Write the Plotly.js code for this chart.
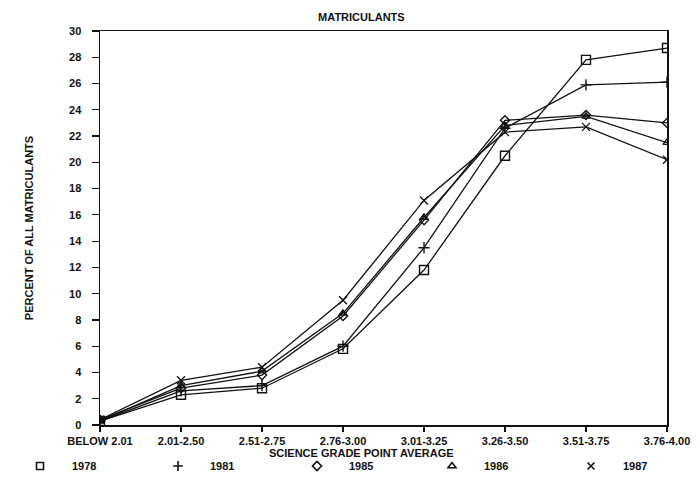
<!DOCTYPE html>
<html>
<head>
<meta charset="utf-8">
<script src="https://cdn.plot.ly/plotly-3.0.1.min.js"></script>
<style>
  html, body { margin: 0; padding: 0; background: #fff; }
  #chart { width: 699px; height: 491px; }
</style>
</head>
<body>
<div id="chart"></div>
<script>
// Science GPA bands (x categories)
const gpaBands = ['BELOW 2.01', '2.01-2.50', '2.51-2.75', '2.76-3.00',
                  '3.01-3.25', '3.26-3.50', '3.51-3.75', '3.76-4.00'];

// Percent of all matriculants in each band, by entering year
const pct1978 = [0.3, 2.3, 2.8, 5.8, 11.8, 20.5, 27.8, 28.7];
const pct1981 = [0.3, 2.6, 3.0, 6.0, 13.5, 22.6, 25.9, 26.1];
const pct1985 = [0.4, 2.8, 3.8, 8.3, 15.6, 23.2, 23.6, 23.0];
const pct1986 = [0.3, 3.0, 4.1, 8.5, 15.8, 22.8, 23.5, 21.5];
const pct1987 = [0.4, 3.4, 4.4, 9.5, 17.1, 22.3, 22.7, 20.2];

const yearNames = ['1978', '1981', '1985', '1986', '1987'];
const yTicks = [0, 2, 4, 6, 8, 10, 12, 14, 16, 18, 20, 22, 24, 26, 28, 30];

const seriesValues = [pct1978, pct1981, pct1985, pct1986, pct1987];
const symbols = ['square-open', 'cross-thin-open', 'diamond-open', 'triangle-up-open', 'x-thin-open'];
const sizes = [9, 8, 7, 7, 8];

const fontFamily = '"Liberation Sans", Arial, sans-serif';
const ink = '#111';
const boldFont = { family: fontFamily, size: 11, color: ink, weight: 'bold' };

// each year's key sits in its own single-entry legend along the bottom row
const legendIds = ['legend', 'legend2', 'legend3', 'legend4', 'legend5'];
const legendLeft = [8, 146, 285, 420, 559];

const traces = [];
// the plotted lines
seriesValues.forEach((vals, i) => {
  traces.push({
    type: 'scatter',
    mode: 'lines+markers',
    x: gpaBands,
    y: vals,
    name: yearNames[i],
    showlegend: false,
    line: { color: ink, width: 1.3 },
    marker: { symbol: symbols[i], size: sizes[i], color: ink, line: { color: ink, width: 1.4 } },
    hoverinfo: 'x+y+name'
  });
});
// marker-only keys for the legend row
seriesValues.forEach((vals, i) => {
  traces.push({
    type: 'scatter',
    mode: 'markers',
    x: [null],
    y: [null],
    name: yearNames[i],
    showlegend: true,
    legend: legendIds[i],
    marker: { symbol: symbols[i], size: 7, color: ink, line: { color: ink, width: 1.6 } }
  });
});

const layout = {
  width: 699,
  height: 491,
  paper_bgcolor: '#fff',
  plot_bgcolor: '#fff',
  margin: { l: 100, r: 32, t: 31, b: 66 },
  font: boldFont,
  title: {
    text: 'MATRICULANTS',
    font: boldFont,
    xref: 'container', x: 0.517, xanchor: 'center',
    yref: 'container', y: 0.965, yanchor: 'middle'
  },
  xaxis: {
    type: 'category',
    range: [0, 7],
    automargin: false,
    showline: true, linecolor: ink, linewidth: 1.5, mirror: true,
    ticks: 'outside', ticklen: 5, tickwidth: 1.2, tickcolor: ink,
    showgrid: false, zeroline: false,
    tickfont: boldFont,
    fixedrange: true
  },
  yaxis: {
    range: [0, 30],
    automargin: true,
    tickvals: yTicks,
    ticktext: yTicks.map(String),
    showline: true, linecolor: ink, linewidth: 1.5, mirror: true,
    ticks: 'outside', ticklen: 7, tickwidth: 1.2, tickcolor: ink,
    ticklabelstandoff: 8,
    showgrid: false, zeroline: false,
    tickfont: boldFont,
    title: { text: 'PERCENT OF ALL MATRICULANTS', standoff: 33, font: boldFont },
    fixedrange: true
  },
  // x-axis caption, set between the band labels and the legend row
  annotations: [{
    text: 'SCIENCE GRADE POINT AVERAGE',
    xref: 'paper', x: 0.462, xanchor: 'center',
    yref: 'paper', y: 0, yanchor: 'middle', yshift: -28,
    showarrow: false,
    font: boldFont
  }],
  showlegend: true
};

legendIds.forEach((id, i) => {
  layout[id] = {
    orientation: 'h',
    xref: 'container', x: legendLeft[i] / 699, xanchor: 'left',
    yref: 'container', y: 1 - 466 / 491, yanchor: 'middle',
    itemwidth: 54,
    font: boldFont,
    bgcolor: 'rgba(0,0,0,0)'
  };
});

Plotly.newPlot('chart', traces, layout, { displayModeBar: false, staticPlot: true });
</script>
</body>
</html>
